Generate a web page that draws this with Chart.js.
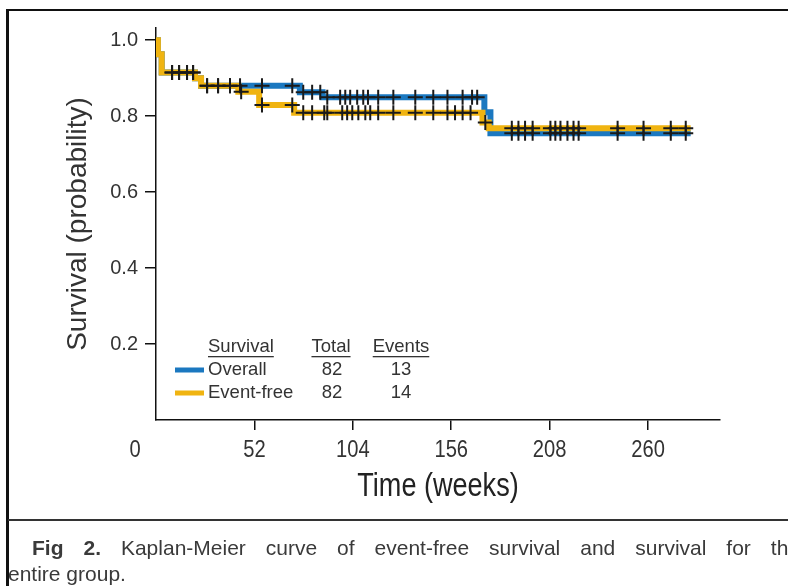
<!DOCTYPE html>
<html>
<head>
<meta charset="utf-8">
<script src="https://cdn.jsdelivr.net/npm/chart.js@4.4.1/dist/chart.umd.min.js"></script>
<style>
  html, body { margin: 0; padding: 0; background: #fff; }
  body { width: 788px; height: 586px; position: relative; overflow: hidden; }
  #wrap { position: absolute; left: 0; top: 0; width: 788px; height: 586px; }
  .frameTop { position: absolute; left: 6px; top: 9px; width: 790px; height: 2px; background: #111; }
  .frameLeft { position: absolute; left: 6px; top: 9px; width: 3px; height: 590px; background: #111; }
  .sep { position: absolute; left: 8px; top: 519px; width: 790px; height: 2px; background: #333; }
  .cap { position: absolute; font-family: "Liberation Sans", Arial, sans-serif;
         font-size: 21px; line-height: 24px; color: #3a3a3a; white-space: nowrap; }
  .cap1 { left: 32px; top: 536px; width: 768px; white-space: normal; text-align: justify; text-align-last: justify; }
  .cap2 { left: 8px; top: 562px; }
</style>
</head>
<body>
<div id="wrap"><canvas id="kmChart" width="788" height="586"></canvas></div>
<div class="frameTop"></div>
<div class="frameLeft"></div>
<div class="sep"></div>
<div class="cap cap1"><b>Fig 2.</b> Kaplan-Meier curve of event-free survival and survival for the</div>
<div class="cap cap2">entire group.</div>
<script>
// Kaplan-Meier steps (weeks, survival probability)
const overallTimes = [0, 1, 3, 20.6, 23.8, 76, 88, 173.5, 176.7, 282.5];
const overallSurv  = [1.0, 0.963, 0.915, 0.90, 0.88, 0.863, 0.85, 0.81, 0.755, 0.755];

const eventFreeTimes = [0, 1, 3, 20.6, 23.8, 43.5, 54.5, 73, 172.5, 175.8, 282.5];
const eventFreeSurv  = [1.0, 0.963, 0.915, 0.90, 0.88, 0.864, 0.829, 0.809, 0.783, 0.768, 0.768];

// censored observations (weeks)
const overallCensor = [8.5, 12.2, 16.4, 19.6, 27, 32.8, 39.1, 44.4, 56, 72, 77.8, 82.5, 86.8,
    90.5, 97.3, 100, 102.6, 106.3, 109.5, 112, 117.4, 125.4, 137, 146.5, 154, 162, 167, 169.7,
    188, 191.5, 195, 199, 208.4, 211, 213.7, 217.4, 220.6, 223.3, 243.9, 257.6, 272, 279.9];
const eventFreeCensor = [8.5, 12.2, 16.4, 19.6, 27, 32.8, 39.1, 45, 56, 72, 77.8, 82.5, 88.9,
    90.5, 98.4, 101, 103.7, 106.9, 110.6, 113.2, 117.4, 125.4, 137, 146.5, 154, 158, 162, 166.2,
    174, 188, 191.5, 195, 199, 208.4, 211, 213.7, 217.4, 220.6, 223.3, 243.9, 257.6, 272, 279.9];

const xTicks = [52, 104, 156, 208, 260];
const yTicks = [0.2, 0.4, 0.6, 0.8, 1.0];
const xTitle = 'Time (weeks)';

// legend table
const legendNames  = ['Overall', 'Event-free'];
const legendTotal  = [82, 82];
const legendEvents = [13, 14];

const blue = '#1b78c0';
const gold = '#f0b411';

function toPoints(times, vals) {
    return times.map((t, i) => ({ x: t, y: vals[i] }));
}

// y of a censor mark = value of the step curve at that time
function censorPoints(censor, times, vals) {
    return censor.map(t => {
        let v = vals[0];
        for (let i = 0; i < times.length; i++) {
            if (times[i] <= t) v = vals[i];
        }
        return { x: t, y: v };
    });
}

// narrow text: the original uses a condensed face, squeeze Liberation Sans
function narrowText(ctx, text, x, y, size, squeeze) {
    ctx.save();
    ctx.font = size + 'px "Liberation Sans", Arial, sans-serif';
    ctx.textAlign = 'center';
    ctx.textBaseline = 'middle';
    ctx.translate(x, y);
    ctx.scale(squeeze, 1);
    ctx.fillText(text, 0, 0);
    ctx.restore();
}

const tableLegend = {
    id: 'tableLegend',
    afterDatasetsDraw(chart) {
        const ctx = chart.ctx;
        ctx.save();
        ctx.fillStyle = '#333';
        ctx.font = '18.5px "Liberation Sans", Arial, sans-serif';
        ctx.textBaseline = 'middle';

        // header, underlined
        const heads = [['Survival', 208, 'left'], ['Total', 331, 'center'], ['Events', 401, 'center']];
        heads.forEach(h => {
            ctx.textAlign = h[2];
            ctx.fillText(h[0], h[1], 347);
            const w = ctx.measureText(h[0]).width;
            const x0 = h[2] === 'left' ? h[1] : h[1] - w / 2;
            ctx.fillRect(x0, 356, w, 1.3);
        });

        const colors = [blue, gold];
        legendNames.forEach((name, i) => {
            const y = 370 + i * 23;
            ctx.fillStyle = colors[i];
            ctx.fillRect(175, y - 2.5, 29, 5);
            ctx.fillStyle = '#333';
            ctx.textAlign = 'left';
            ctx.fillText(name, 208, y);
            ctx.textAlign = 'center';
            ctx.fillText(String(legendTotal[i]), 332, y);
            ctx.fillText(String(legendEvents[i]), 401, y);
        });

        // x tick labels, shared origin "0" and axis title in a narrow face
        const xs = chart.scales.x;
        ctx.fillStyle = '#333';
        xTicks.forEach(v => narrowText(ctx, String(v), xs.getPixelForValue(v), 450, 24, 0.84));
        narrowText(ctx, '0', 135, 450, 24, 0.84);
        ctx.fillStyle = '#222';
        narrowText(ctx, xTitle, (xs.left + xs.right) / 2, 487, 33, 0.82);
        ctx.restore();
    }
};

const ctx = document.getElementById('kmChart').getContext('2d');
new Chart(ctx, {
    type: 'line',
    data: {
        datasets: [
            {
                label: 'Censored',
                type: 'scatter',
                data: censorPoints(overallCensor, overallTimes, overallSurv)
                    .concat(censorPoints(eventFreeCensor, eventFreeTimes, eventFreeSurv)),
                pointStyle: 'cross',
                pointRadius: 7.5,
                pointBorderWidth: 2,
                borderColor: '#1a1a1a',
                backgroundColor: '#1a1a1a',
                order: 0
            },
            {
                label: 'Event-free',
                data: toPoints(eventFreeTimes, eventFreeSurv),
                stepped: 'before',
                borderColor: gold,
                borderWidth: 6,
                pointRadius: 0,
                fill: false,
                order: 1
            },
            {
                label: 'Overall',
                data: toPoints(overallTimes, overallSurv),
                stepped: 'before',
                borderColor: blue,
                borderWidth: 6,
                pointRadius: 0,
                fill: false,
                order: 2
            }
        ]
    },
    options: {
        responsive: false,
        animation: false,
        events: [],
        layout: { padding: { top: 28, right: 68, bottom: 66, left: 0 } },
        plugins: { legend: { display: false }, tooltip: { enabled: false } },
        scales: {
            x: {
                type: 'linear',
                min: 0,
                max: 298,
                afterBuildTicks: s => { s.ticks = xTicks.map(v => ({ value: v })); },
                afterFit: s => { s.height = 100; },
                grid: { drawOnChartArea: false, drawTicks: true, tickLength: 10, color: '#111', lineWidth: 1.5 },
                border: { color: '#111', width: 1.5 },
                ticks: { display: false }
            },
            y: {
                min: 0,
                max: 1.032,
                afterBuildTicks: s => { s.ticks = yTicks.map(v => ({ value: v })); },
                afterFit: s => { s.width = 156; },
                grid: { drawOnChartArea: false, drawTicks: true, tickLength: 11, color: '#111', lineWidth: 1.5 },
                border: { color: '#111', width: 1.5 },
                ticks: {
                    color: '#333',
                    padding: 7,
                    callback: v => v.toFixed(1),
                    font: { family: '"Liberation Sans", Arial, sans-serif', size: 20 }
                },
                title: {
                    display: true,
                    text: 'Survival (probability)',
                    color: '#333',
                    font: { family: '"Liberation Sans", Arial, sans-serif', size: 28, lineHeight: 1 },
                    padding: { top: 64, bottom: 0 }
                }
            }
        }
    },
    plugins: [tableLegend]
});
</script>
</body>
</html>
